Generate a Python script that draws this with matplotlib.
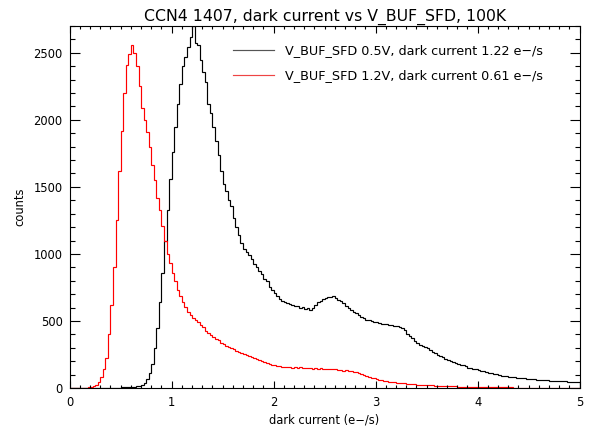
import numpy as np
import matplotlib
matplotlib.use('Agg')
import matplotlib.pyplot as plt

# histogram of dark current, bin width 0.025 e-/s from 0 to 5
bin_width = 0.025
x_min, x_max = 0.0, 5.0

# V_BUF_SFD = 0.5V
counts_05v = [
    0, 0, 0, 0, 0, 0, 0, 0, 0, 0,
    0, 0, 1, 1, 1, 1, 2, 2, 3, 3,
    4, 5, 6, 7, 9, 11, 14, 18, 26, 40,
    65, 110, 180, 300, 450, 640, 860, 1100, 1330, 1560,
    1760, 1950, 2120, 2270, 2400, 2470, 2540, 2620, 2700, 2570,
    2560, 2450, 2360, 2280, 2120, 2050, 1950, 1840, 1740, 1620,
    1520, 1470, 1400, 1360, 1270, 1200, 1140, 1085, 1040, 1015,
    990, 960, 925, 900, 870, 850, 812, 795, 755, 730,
    705, 685, 662, 648, 640, 632, 625, 620, 612, 608,
    600, 604, 590, 596, 584, 598, 620, 640, 652, 662,
    672, 680, 676, 684, 668, 660, 646, 632, 612, 596,
    580, 566, 556, 542, 530, 520, 510, 505, 500, 494,
    490, 486, 480, 478, 474, 470, 468, 464, 460, 452,
    445, 430, 405, 385, 372, 350, 333, 322, 312, 305,
    295, 285, 272, 262, 245, 235, 228, 218, 207, 200,
    192, 186, 178, 172, 168, 162, 152, 149, 143, 138,
    134, 130, 126, 120, 114, 109, 105, 101, 97, 93,
    90, 87, 85, 82, 80, 78, 76, 74, 72, 70,
    68, 66, 64, 62, 60, 59, 58, 56, 55, 54,
    53, 52, 51, 50, 49, 48, 48, 47, 46, 45,
]

# V_BUF_SFD = 1.2V
counts_12v = [
    1, 1, 2, 1, 2, 3, 2, 4, 6, 12,
    25, 45, 80, 140, 220, 400, 620, 900, 1250, 1620,
    1920, 2200, 2410, 2490, 2560, 2500, 2400, 2250, 2090, 2000,
    1910, 1800, 1660, 1550, 1420, 1330, 1210, 1100, 1000, 935,
    860, 795, 730, 685, 640, 605, 570, 548, 522, 505,
    492, 468, 458, 428, 412, 392, 378, 362, 358, 338,
    330, 316, 306, 297, 292, 279, 271, 260, 256, 244,
    238, 229, 224, 213, 209, 199, 194, 185, 181, 175,
    172, 167, 166, 159, 160, 155, 157, 152, 155, 150,
    153, 148, 151, 146, 150, 145, 147, 144, 146, 143,
    145, 141, 143, 138, 139, 134, 135, 130, 131, 126,
    125, 119, 116, 109, 104, 97, 90, 83, 77, 71,
    65, 60, 56, 52, 49, 46, 44, 42, 40, 38,
    36, 35, 33, 31, 29, 28, 26, 25, 23, 22,
    21, 20, 19, 18, 17, 16, 15, 14, 14, 13,
    12, 12, 11, 10, 10, 9, 9, 8, 8, 7,
    7, 7, 6, 6, 6, 5, 5, 5, 5, 4,
    4, 4, 4, 4, 3, 3, 3, 3, 3, 3,
    3, 3, 2, 2, 2, 2, 2, 2, 2, 2,
    2, 2, 2, 2, 1, 2, 1, 1, 1, 1,
]

labels = ['V_BUF_SFD 0.5V, dark current 1.22 e\u2212/s',
          'V_BUF_SFD 1.2V, dark current 0.61 e\u2212/s']
title = 'CCN4 1407, dark current vs V_BUF_SFD, 100K'

edges = np.linspace(x_min, x_max, len(counts_05v) + 1)

fig = plt.figure(figsize=(5.92, 4.30), dpi=100)
ax = fig.add_axes([0.1177, 0.0977, 0.8613, 0.8418])

ax.stairs(counts_05v, edges, color='black', linewidth=0.85, label=labels[0])
ax.stairs(counts_12v, edges, color='red', linewidth=0.85, label=labels[1])

ax.set_xlim(0, 5)
ax.set_ylim(0, 2700)
ax.set_xticks(np.arange(0, 6, 1))
ax.set_xticks(np.arange(0, 5.01, 0.1), minor=True)
ax.set_yticks(np.arange(0, 2501, 500))
ax.set_yticks(np.arange(0, 2701, 100), minor=True)

ax.tick_params(axis='x', which='major', direction='in', length=5, width=0.8,
               top=True, labelsize=8.3, pad=6)
ax.tick_params(axis='x', which='minor', direction='in', length=2.5, width=0.8, top=True)
ax.tick_params(axis='y', which='major', direction='in', length=7, width=0.8,
               right=True, labelsize=8.3, pad=5)
ax.tick_params(axis='y', which='minor', direction='in', length=3.5, width=0.8, right=True)
for s in ax.spines.values():
    s.set_linewidth(0.8)

ax.set_xlabel('dark current (e\u2212/s)', fontsize=8.3, labelpad=3)
ax.set_ylabel('counts', fontsize=8.3, labelpad=5)
ax.set_title(title, fontsize=11.3, pad=4)

leg = ax.legend(loc='upper left', bbox_to_anchor=(0.32, 0.95), frameon=False,
                fontsize=9.2, handlelength=3.2, handletextpad=0.9,
                labelspacing=0.95, borderpad=0, borderaxespad=0)
leg.get_lines()[0].set_color('#555555')
leg.get_lines()[1].set_color('#ee4444')

fig.savefig('out.png', dpi=100)
